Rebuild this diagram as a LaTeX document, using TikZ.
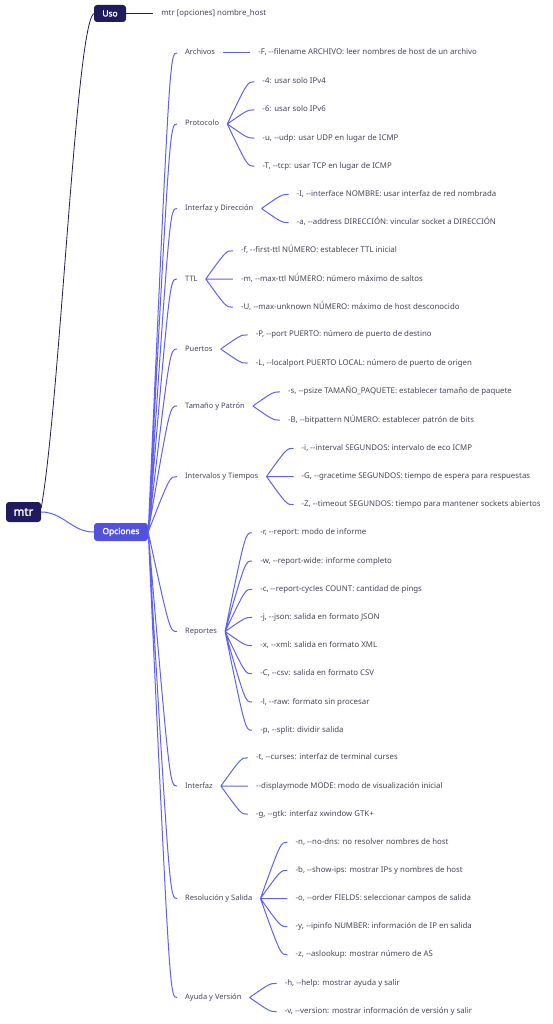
\documentclass[tikz,border=0pt]{standalone}
\usepackage{fontspec}
\usepackage{xcolor}
\usepackage{tikz}
\usetikzlibrary{positioning, calc}
\newfontfamily\mapfont{Noto Sans}[Ligatures=TeXOff]
\newfontfamily\boxfont{Noto Sans}[FakeBold=2]
\definecolor{navy}{HTML}{1F1B5C}
\definecolor{opcblue}{HTML}{5252DE}
\definecolor{linkblue}{HTML}{6060F6}
\definecolor{textgray}{HTML}{44445A}
\tikzset{
  rootbox/.style={fill=navy, rounded corners=3pt, text=white, inner sep=0pt,
    font=\boxfont\fontsize{11.5}{13}\selectfont},
  mainbox/.style={rounded corners=3pt, text=white, inner sep=0pt,
    font=\boxfont\fontsize{8.4}{10}\selectfont},
  cat/.style={text=textgray, font=\mapfont\fontsize{7.5}{9}\selectfont,
    inner xsep=8pt, inner ysep=1pt, text height=5.6pt, text depth=1.6pt},
  leaf/.style={cat, font=\mapfont\fontsize{7.85}{9}\selectfont},
  navyline/.style={draw=navy, line width=0.8pt},
  opcline/.style={draw=linkblue, line width=1pt},
  twig/.style={to path={let \p1=(\tikztostart), \p2=(\tikztotarget) in
    .. controls ({\x1+0.75*(\x2-\x1)},\y2) .. (\tikztotarget)}}
}

\begin{document}
\begin{tikzpicture}[x=1pt, y=-1pt]
    \useasboundingbox (0,0) rectangle (552,1024);

    % Centre and main branches
    \node[rootbox, minimum width=35pt, minimum height=20pt] (mtr) at (23.5,512) {mtr};
    \node[mainbox, fill=navy, minimum width=32pt, minimum height=17pt] (uso) at (110,13.5) {Uso};
    \node[mainbox, fill=opcblue, minimum width=54pt, minimum height=18pt] (opc) at (121,532) {Opciones};

    \draw[navyline] ([yshift=4pt]mtr.east) .. controls +(19,-108) and +(-18,12) .. (uso.west);
    \draw[opcline] (mtr.east) to[out=0, in=180] (opc.west);

    % Uso
    \node[leaf, right=27pt of uso] (usoleaf) {mtr [opciones] nombre\_host};
    \draw[navyline] (uso.east) -- (usoleaf.west);

    % Opciones: groups
    \node[cat, anchor=west] (arch) at (177,53) {Archivos};
    \node[cat, anchor=west] (prot) at (177,124) {Protocolo};
    \node[cat, anchor=west] (idir) at (177,208.5) {Interfaz y Dirección};
    \node[cat, anchor=west] (ttl) at (177,279) {TTL};
    \node[cat, anchor=west] (puer) at (177,349) {Puertos};
    \node[cat, anchor=west] (tam) at (177,406) {Tamaño y Patrón};
    \node[cat, anchor=west] (intv) at (177,476.5) {Intervalos y Tiempos};
    \node[cat, anchor=west] (rep) at (177,631.5) {Reportes};
    \node[cat, anchor=west] (intf) at (177,786) {Interfaz};
    \node[cat, anchor=west] (res) at (177,898.5) {Resolución y Salida};
    \node[cat, anchor=west] (ayu) at (177,997.5) {Ayuda y Versión};

    \draw[opcline, twig] (opc.east) to (arch.west) (opc.east) to (prot.west)
        (opc.east) to (idir.west) (opc.east) to (ttl.west) (opc.east) to (puer.west)
        (opc.east) to (tam.west) (opc.east) to (intv.west) (opc.east) to (rep.west)
        (opc.east) to (intf.west) (opc.east) to (res.west) (opc.east) to (ayu.west);

    % Archivos
    \node[leaf, right=27pt of arch] (arch1) {-F, --filename ARCHIVO: leer nombres de host de un archivo};
    \draw[opcline] (arch.east) -- (arch1.west);

    % Protocolo
    \node[leaf, right=27pt of prot, yshift=42.3pt] (prot1) {-4: usar solo IPv4};
    \node[leaf, right=27pt of prot, yshift=14.1pt] (prot2) {-6: usar solo IPv6};
    \node[leaf, right=27pt of prot, yshift=-14.1pt] (prot3) {-u, --udp: usar UDP en lugar de ICMP};
    \node[leaf, right=27pt of prot, yshift=-42.3pt] (prot4) {-T, --tcp: usar TCP en lugar de ICMP};
    \draw[opcline, twig] (prot.east) to (prot1.west) (prot.east) to (prot2.west)
        (prot.east) to (prot3.west) (prot.east) to (prot4.west);

    % Interfaz y Direccion
    \node[leaf, right=27pt of idir, yshift=14.1pt] (idir1) {-I, --interface NOMBRE: usar interfaz de red nombrada};
    \node[leaf, right=27pt of idir, yshift=-14.1pt] (idir2) {-a, --address DIRECCIÓN: vincular socket a DIRECCIÓN};
    \draw[opcline, twig] (idir.east) to (idir1.west) (idir.east) to (idir2.west);

    % TTL
    \node[leaf, right=27pt of ttl, yshift=28.2pt] (ttl1) {-f, --first-ttl NÚMERO: establecer TTL inicial};
    \node[leaf, right=27pt of ttl] (ttl2) {-m, --max-ttl NÚMERO: número máximo de saltos};
    \node[leaf, right=27pt of ttl, yshift=-28.2pt] (ttl3) {-U, --max-unknown NÚMERO: máximo de host desconocido};
    \draw[opcline, twig] (ttl.east) to (ttl1.west) (ttl.east) to (ttl2.west) (ttl.east) to (ttl3.west);

    % Puertos
    \node[leaf, right=27pt of puer, yshift=14.1pt] (puer1) {-P, --port PUERTO: número de puerto de destino};
    \node[leaf, right=27pt of puer, yshift=-14.1pt] (puer2) {-L, --localport PUERTO LOCAL: número de puerto de origen};
    \draw[opcline, twig] (puer.east) to (puer1.west) (puer.east) to (puer2.west);

    % Tamano y Patron
    \node[leaf, right=27pt of tam, yshift=14.1pt] (tam1) {-s, --psize TAMAÑO\_PAQUETE: establecer tamaño de paquete};
    \node[leaf, right=27pt of tam, yshift=-14.1pt] (tam2) {-B, --bitpattern NÚMERO: establecer patrón de bits};
    \draw[opcline, twig] (tam.east) to (tam1.west) (tam.east) to (tam2.west);

    % Intervalos y Tiempos
    \node[leaf, right=27pt of intv, yshift=28.2pt] (intv1) {-i, --interval SEGUNDOS: intervalo de eco ICMP};
    \node[leaf, right=27pt of intv] (intv2) {-G, --gracetime SEGUNDOS: tiempo de espera para respuestas};
    \node[leaf, right=27pt of intv, yshift=-28.2pt] (intv3) {-Z, --timeout SEGUNDOS: tiempo para mantener sockets abiertos};
    \draw[opcline, twig] (intv.east) to (intv1.west) (intv.east) to (intv2.west) (intv.east) to (intv3.west);

    % Reportes
    \node[leaf, right=27pt of rep, yshift=98.7pt] (rep1) {-r, --report: modo de informe};
    \node[leaf, right=27pt of rep, yshift=70.5pt] (rep2) {-w, --report-wide: informe completo};
    \node[leaf, right=27pt of rep, yshift=42.3pt] (rep3) {-c, --report-cycles COUNT: cantidad de pings};
    \node[leaf, right=27pt of rep, yshift=14.1pt] (rep4) {-j, --json: salida en formato JSON};
    \node[leaf, right=27pt of rep, yshift=-14.1pt] (rep5) {-x, --xml: salida en formato XML};
    \node[leaf, right=27pt of rep, yshift=-42.3pt] (rep6) {-C, --csv: salida en formato CSV};
    \node[leaf, right=27pt of rep, yshift=-70.5pt] (rep7) {-l, --raw: formato sin procesar};
    \node[leaf, right=27pt of rep, yshift=-98.7pt] (rep8) {-p, --split: dividir salida};
    \draw[opcline, twig] (rep.east) to (rep1.west) (rep.east) to (rep2.west) (rep.east) to (rep3.west)
        (rep.east) to (rep4.west) (rep.east) to (rep5.west) (rep.east) to (rep6.west)
        (rep.east) to (rep7.west) (rep.east) to (rep8.west);

    % Interfaz
    \node[leaf, right=27pt of intf, yshift=28.2pt] (intf1) {-t, --curses: interfaz de terminal curses};
    \node[leaf, right=27pt of intf] (intf2) {--displaymode MODE: modo de visualización inicial};
    \node[leaf, right=27pt of intf, yshift=-28.2pt] (intf3) {-g, --gtk: interfaz xwindow GTK+};
    \draw[opcline, twig] (intf.east) to (intf1.west) (intf.east) to (intf2.west) (intf.east) to (intf3.west);

    % Resolucion y Salida
    \node[leaf, right=27pt of res, yshift=56.4pt] (res1) {-n, --no-dns: no resolver nombres de host};
    \node[leaf, right=27pt of res, yshift=28.2pt] (res2) {-b, --show-ips: mostrar IPs y nombres de host};
    \node[leaf, right=27pt of res] (res3) {-o, --order FIELDS: seleccionar campos de salida};
    \node[leaf, right=27pt of res, yshift=-28.2pt] (res4) {-y, --ipinfo NUMBER: información de IP en salida};
    \node[leaf, right=27pt of res, yshift=-56.4pt] (res5) {-z, --aslookup: mostrar número de AS};
    \draw[opcline, twig] (res.east) to (res1.west) (res.east) to (res2.west) (res.east) to (res3.west)
        (res.east) to (res4.west) (res.east) to (res5.west);

    % Ayuda y Version
    \node[leaf, right=27pt of ayu, yshift=14.1pt] (ayu1) {-h, --help: mostrar ayuda y salir};
    \node[leaf, right=27pt of ayu, yshift=-14.1pt] (ayu2) {-v, --version: mostrar información de versión y salir};
    \draw[opcline, twig] (ayu.east) to (ayu1.west) (ayu.east) to (ayu2.west);

\end{tikzpicture}
\end{document}
